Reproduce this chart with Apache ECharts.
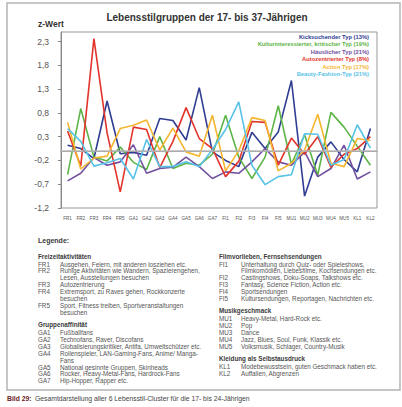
<!DOCTYPE html>
<html>
<head>
<meta charset="utf-8">
<script src="https://cdn.jsdelivr.net/npm/echarts@6/dist/echarts.min.js"></script>
<style>
html, body { margin: 0; padding: 0; background: #fff; }
#main { width: 402px; height: 407px; }
</style>
</head>
<body>
<div id="main"></div>
<script>
// Kategorien (x-Achse)
var categories = ['FR1', 'FR2', 'FR3', 'FR4', 'FR5', 'GA1', 'GA2', 'GA3', 'GA4', 'GA5', 'GA6', 'GA7',
    'FI1', 'FI2', 'FI3', 'FI4', 'FI5', 'MU1', 'MU2', 'MU3', 'MU4', 'MU5', 'KL1', 'KL2'];

// z-Werte je Lebensstilgruppe
var kicksuchend = [0.12, 0.05, -0.16, 1.05, -0.06, -0.03, -0.09, 0.68, 0.64, 0.23, 1.33, -0.02,
    -0.2, -0.33, 0.39, 0.05, 0.4, 1.48, -0.95, -0.13, 0.19, -0.18, -0.44, 0.47];
var kulturinteressiert = [-0.5, 0.89, -0.13, -0.21, 0.08, -0.24, -0.39, 0.3, -0.37, -0.26, -0.3, -0.07,
    0.75, -0.13, -0.58, -0.13, 0.95, -0.28, 0.34, -0.51, 0.81, 0.5, 0.1, -0.3];
var haeuslich = [-0.63, -0.47, -0.14, -0.3, -0.23, 0.13, -0.47, -0.37, -0.34, -0.13, -0.33, -0.58,
    -0.44, -0.47, -0.23, 0.05, -0.23, -0.3, -0.02, -0.54, -0.37, 0.12, -0.59, -0.44];
var autozentriert = [0.42, -0.32, 2.36, 0.38, -0.86, 0.5, 0.45, -0.35, 0.2, 0.91, 0.26, 0.05,
    -0.54, -0.22, 0.62, 0.6, -0.3, 0.27, -0.07, 0.3, -0.34, -0.07, 0.05, 0.3];
var action = [0.6, -0.38, -0.15, -0.11, 0.47, 0.54, 0.65, 0.02, 0.48, -0.02, -0.11, 0.75,
    -0.42, 0.0, 0.7, 0.64, -0.42, -0.26, 0.02, 0.77, -0.26, -0.33, 0.26, 0.22];
var beautyFashion = [0.47, 0.2, -0.32, -0.25, -0.16, -0.59, 0.24, -0.33, -0.33, -0.23, -0.33, 0.03,
    0.45, 1.03, -0.3, -0.71, -0.54, -0.5, 0.36, 0.35, -0.3, -0.18, 0.55, 0.06];

var seriesNames = ['Kicksuchender Typ (13%)', 'Kulturinteressierter, kritischer Typ (19%)',
    'Häuslicher Typ (21%)', 'Autozentrierter Typ (8%)', 'Action Typ (17%)', 'Beauty-Fashion-Typ (21%)'];
var seriesData = [kicksuchend, kulturinteressiert, haeuslich, autozentriert, action, beautyFashion];
var seriesColors = ['#2f3d92', '#5db447', '#7150a0', '#e2342b', '#f6b52e', '#57c2e7'];

// Legende unter dem Diagramm
var headFR = 'Freizeitaktivitäten';
var legendFR = [
    ['FR1', 'Ausgehen, Feiern, mit anderen losziehen etc.'],
    ['FR2', 'Ruhige Aktivitäten wie Wandern, Spazierengehen,\nLesen, Ausstellungen besuchen'],
    ['FR3', 'Autozentrierung'],
    ['FR4', 'Extremsport, zu Raves gehen, Rockkonzerte\nbesuchen'],
    ['FR5', 'Sport, Fitness treiben, Sportveranstaltungen\nbesuchen']
];
var headGA = 'Gruppenaffinität';
var legendGA = [
    ['GA1', 'Fußballfans'],
    ['GA2', 'Technofans, Raver, Discofans'],
    ['GA3', 'Globalisierungskritiker, Antifa, Umweltschützer etc.'],
    ['GA4', 'Rollenspieler, LAN-Gaming-Fans, Anime/ Manga-\nFans'],
    ['GA5', 'National gesinnte Gruppen, Skinheads'],
    ['GA6', 'Rocker, Heavy-Metal-Fans, Hardrock-Fans'],
    ['GA7', 'Hip-Hopper, Rapper etc.']
];
var headFI = 'Filmvorlieben, Fernsehsendungen';
var legendFI = [
    ['FI1', 'Unterhaltung durch Quiz- oder Spieleshows,\nFilmkomödien, Liebesfilme, Kochsendungen etc.'],
    ['FI2', 'Castingshows, Doku-Soaps, Talkshows etc.'],
    ['FI3', 'Fantasy, Science Fiction, Action etc.'],
    ['FI4', 'Sportsendungen'],
    ['FI5', 'Kultursendungen, Reportagen, Nachrichten etc.']
];
var headMU = 'Musikgeschmack';
var legendMU = [
    ['MU1', 'Heavy-Metal, Hard-Rock etc.'],
    ['MU2', 'Pop'],
    ['MU3', 'Dance'],
    ['MU4', 'Jazz, Blues, Soul, Funk, Klassik etc.'],
    ['MU5', 'Volksmusik, Schlager, Country-Musik']
];
var headKL = 'Kleidung als Selbstausdruck';
var legendKL = [
    ['KL1', 'Modebewusstsein, guten Geschmack haben etc.'],
    ['KL2', 'Auffallen, Abgrenzen']
];

var chartTitle = 'Lebensstilgruppen der 17- bis 37-Jährigen';
var yName = 'z-Wert';
var captionHead = 'Bild 29:';
var captionText = 'Gesamtdarstellung aller 6 Lebensstil-Cluster für die 17- bis 24-Jährigen';

var font = '"Liberation Sans", Arial, sans-serif';
var myChart = echarts.init(document.getElementById('main'), null, { renderer: 'svg' });

var graphic = [];
// Rahmen
graphic.push({ type: 'rect', shape: { x: 7, y: 3, width: 393, height: 387 }, style: { fill: 'none', stroke: '#b4b4b4', lineWidth: 1.5 }, silent: true });
graphic.push({ type: 'text', x: 207, y: 17, style: { text: chartTitle, font: 'bold 10px ' + font, fill: '#333', textAlign: 'center', textVerticalAlign: 'middle' } });
graphic.push({ type: 'text', x: 38, y: 24, style: { text: yName, font: 'bold 8.5px ' + font, fill: '#333', textAlign: 'left', textVerticalAlign: 'middle' } });

// Legende oben rechts im Diagramm
for (var i = 0; i < seriesNames.length; i++) {
    graphic.push({ type: 'text', x: 369, y: 36.8 + i * 7.5, style: { text: seriesNames[i], font: 'bold 5.8px ' + font, fill: seriesColors[i], textAlign: 'right', textVerticalAlign: 'middle' } });
}

// Legende unten
var lineH = 6.9;
function addText(x, y, txt, bold, size) {
    graphic.push({ type: 'text', x: x, y: y, style: { text: txt, font: (bold ? 'bold ' : '') + size + 'px ' + font, fill: bold ? '#3a3a3a' : '#555', textAlign: 'left', textVerticalAlign: 'middle' } });
}
function addBlock(xCode, xText, y, head, items) {
    addText(xCode, y, head, true, 6.3);
    y += 8;
    for (var k = 0; k < items.length; k++) {
        var lines = items[k][1].split('\n');
        addText(xCode, y, items[k][0], false, 6.3);
        for (var l = 0; l < lines.length; l++) {
            addText(xText, y, lines[l], false, 6.3);
            y += lineH;
        }
    }
    return y - lineH + 12.2;
}
addText(38, 240, 'Legende:', true, 7);
var yl = addBlock(38, 60, 256, headFR, legendFR);
addBlock(38, 60, yl, headGA, legendGA);
var yr = addBlock(219, 241, 256, headFI, legendFI);
yr = addBlock(219, 241, yr, headMU, legendMU);
addBlock(219, 241, yr, headKL, legendKL);

// Bildunterschrift
graphic.push({ type: 'text', x: 7, y: 398, style: { text: captionHead, font: 'bold 6.8px ' + font, fill: '#6a2222', textAlign: 'left', textVerticalAlign: 'middle' } });
graphic.push({ type: 'text', x: 35, y: 398, style: { text: captionText, font: '6.8px ' + font, fill: '#444', textAlign: 'left', textVerticalAlign: 'middle' } });

var series = [];
for (var s = 0; s < seriesNames.length; s++) {
    var item = {
        name: seriesNames[s],
        type: 'line',
        data: seriesData[s],
        symbol: 'none',
        lineStyle: { color: seriesColors[s], width: 1.6 },
        itemStyle: { color: seriesColors[s] }
    };
    if (s === 0) {
        // Nulllinie
        item.markLine = {
            silent: true,
            symbol: 'none',
            label: { show: false },
            lineStyle: { color: '#b8b8b8', width: 1.5, type: 'solid' },
            data: [{ yAxis: 0 }]
        };
    }
    series.push(item);
}

var option = {
    animation: false,
    textStyle: { fontFamily: font },
    grid: { left: 61, right: 25, top: 32, bottom: 199, show: true, borderColor: '#999', borderWidth: 1 },
    xAxis: {
        type: 'category',
        data: categories,
        boundaryGap: true,
        axisLine: { lineStyle: { color: '#888' } },
        axisTick: { show: false },
        axisLabel: { interval: 0, fontSize: 4.6, color: '#555', margin: 8 }
    },
    yAxis: {
        type: 'value',
        min: -1.2,
        max: 2.5,
        interval: 0.5,
        splitLine: { show: false },
        axisLine: { show: true, lineStyle: { color: '#888' } },
        axisTick: { show: true, length: 3, lineStyle: { color: '#888' } },
        axisLabel: {
            showMaxLabel: false,
            fontSize: 8.5,
            color: '#555',
            margin: 12,
            formatter: function (v) { return v.toFixed(1).replace('.', ','); }
        }
    },
    series: series,
    graphic: graphic
};
myChart.setOption(option);
</script>
</body>
</html>
